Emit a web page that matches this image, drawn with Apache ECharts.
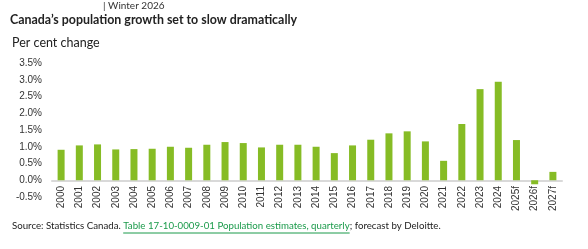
<!DOCTYPE html>
<html><head><meta charset="utf-8">
<script src="https://cdn.jsdelivr.net/npm/echarts@6/dist/echarts.min.js"></script>
<style>html,body{margin:0;padding:0;background:#fff}#c{width:588px;height:249px}</style>
</head><body><div id="c"></div>
<script>
const categories = ['2000','2001','2002','2003','2004','2005','2006','2007','2008','2009','2010','2011','2012','2013','2014','2015','2016','2017','2018','2019','2020','2021','2022','2023','2024','2025f','2026f','2027f'];
const growth = [0.91,1.04,1.07,0.92,0.93,0.94,1.00,0.97,1.06,1.14,1.11,0.98,1.06,1.06,1.00,0.81,1.04,1.21,1.40,1.46,1.16,0.58,1.68,2.72,2.94,1.20,-0.12,0.25];
const titleText = 'Canada\u2019s population growth set to slow dramatically';
const editionText = '| Winter 2026';
const unitText = 'Per cent change';
const srcA = 'Source: Statistics Canada. ';
const srcLink = 'Table 17-10-0009-01 Population estimates, quarterly';
const srcB = '; forecast by Deloitte.';

const srcFont = '9.7px Lato';
const cv = document.createElement('canvas').getContext('2d');
cv.font = srcFont;
const wA = cv.measureText(srcA).width, wL = cv.measureText(srcLink).width;
const sx = 12, sy = 227;

const chart = echarts.init(document.getElementById('c'));
chart.setOption({
  animation: false,
  grid: {left: 52, right: 26, top: 63, bottom: 52},
  xAxis: {
    type: 'category', data: categories,
    axisLine: {onZero: true, lineStyle: {color: '#d9d9d9', width: 2}},
    axisTick: {show: false},
    axisLabel: {rotate: 90, interval: 0, color: '#333', fontFamily: 'Liberation Sans', fontSize: 10, margin: -11}
  },
  yAxis: {
    type: 'value', min: -0.5, max: 3.5, interval: 0.5,
    splitLine: {show: false}, axisLine: {show: false}, axisTick: {show: false},
    axisLabel: {formatter: v => v.toFixed(1) + '%', color: '#333', fontFamily: 'Liberation Sans', fontSize: 10, margin: 10}
  },
  series: [{type: 'bar', data: growth, barWidth: 7, itemStyle: {color: '#86bc25'}}],
  graphic: [
    {type: 'text', left: 103, top: 1, style: {text: editionText, font: '10px Lato', fill: '#333'}},
    {type: 'text', left: 10, top: 14, style: {text: titleText, font: 'bold 12.4px Lato', fill: '#222'}},
    {type: 'text', left: 12, top: 36, style: {text: unitText, font: '12.5px Lato', fill: '#222'}},
    {type: 'text', left: sx, top: sy - 6, style: {text: srcA, font: srcFont, fill: '#222'}},
    {type: 'text', left: sx + wA, top: sy - 6, style: {text: srcLink, font: srcFont, fill: '#1a9a4a'}},
    {type: 'line', shape: {x1: sx + wA, y1: sy + 6, x2: sx + wA + wL, y2: sy + 6}, style: {stroke: '#1a9a4a', lineWidth: 1}},
    {type: 'text', left: sx + wA + wL, top: sy - 6, style: {text: srcB, font: srcFont, fill: '#222'}}
  ]
});
</script></body></html>
